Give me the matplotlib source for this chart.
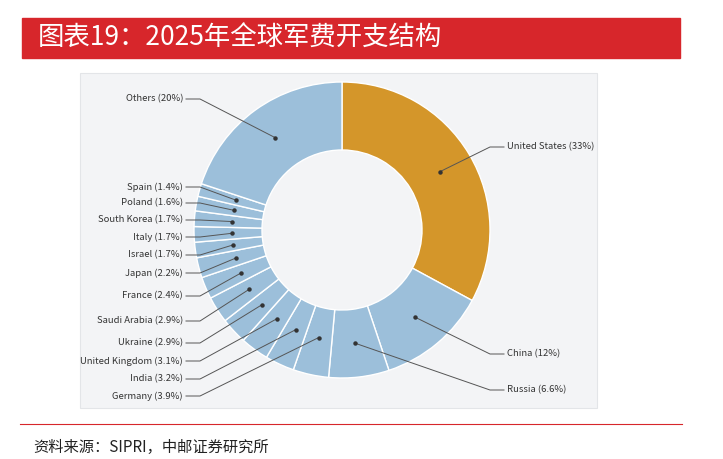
import numpy as np
import matplotlib.pyplot as plt
from matplotlib.patches import Rectangle

plt.rcParams['font.family'] = ['Noto Sans CJK SC', 'DejaVu Sans']

countries = ['United States', 'China', 'Russia', 'Germany', 'India', 'United Kingdom',
             'Ukraine', 'Saudi Arabia', 'France', 'Japan', 'Israel', 'Italy',
             'South Korea', 'Poland', 'Spain', 'Others']
shares = [33, 12, 6.6, 3.9, 3.2, 3.1, 2.9, 2.9, 2.4, 2.2, 1.7, 1.7, 1.7, 1.6, 1.4, 20]
# label text y position (pixels from top) and side
label_y = [147, 354, 390, 396, 379, 361, 343, 321, 296, 273, 255, 237, 220, 203, 187, 99]
label_side = ['R', 'R', 'R'] + ['L'] * 13

W, H = 723, 459
fig = plt.figure(figsize=(W / 100, H / 100), dpi=100)
ax = fig.add_axes([0, 0, 1, 1])

# title banner and panel
ax.add_patch(Rectangle((22, H - 58), 658, 40, color='#D7262B', zorder=0))
ax.text(38, H - 38, '图表19：2025年全球军费开支结构', color='white', fontsize=19,
        va='center', ha='left')
ax.add_patch(Rectangle((80, H - 408), 517, 335, facecolor='#F3F4F6',
                       edgecolor='#E3E5E8', lw=0.8, zorder=0))

cx, cy, R = 342, H - 230, 148
colors = ['#D4962A'] + ['#9CBFDA'] * 15
wedges, _ = ax.pie(shares, startangle=90, counterclock=False, colors=colors,
                   radius=R, center=(cx, cy), frame=True,
                   wedgeprops=dict(width=68, edgecolor='white', linewidth=1))

total = sum(shares)
ang = 90.0
for name, s, ly, side in zip(countries, shares, label_y, label_side):
    mid = np.deg2rad(ang - s / total * 360 / 2)
    ang -= s / total * 360
    r = R - 34 if s > 5 else R - 38
    dx, dy = cx + r * np.cos(mid), cy + r * np.sin(mid)
    ty = H - ly
    txt = f'{name} ({s:g}%)'
    if side == 'L':
        ax.plot([186, 200, dx], [ty, ty, dy], color='#555555', lw=0.7)
        ax.text(183, ty, txt, ha='right', va='center', fontsize=6.8, color='#333333')
    else:
        ax.plot([504, 490, dx], [ty, ty, dy], color='#555555', lw=0.7)
        ax.text(507, ty, txt, ha='left', va='center', fontsize=6.8, color='#333333')
    ax.plot(dx, dy, 'o', color='#333333', ms=2.2)

ax.plot([20, 682], [H - 424, H - 424], color='#D7262B', lw=0.8)
ax.text(33, H - 447, '资料来源：SIPRI，中邮证券研究所', fontsize=11, color='#222222',
        va='center', ha='left')

ax.set_xlim(0, W)
ax.set_ylim(0, H)
ax.axis('off')
fig.savefig('out.png', dpi=100)
